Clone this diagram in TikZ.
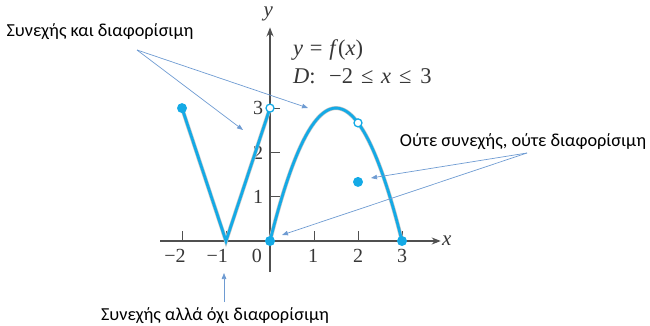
\documentclass[tikz,border=0pt]{standalone}
\usepackage{fontspec}
\setmainfont{Carlito}
\newfontfamily\tnr{Liberation Serif}
\usetikzlibrary{arrows.meta}
\definecolor{curvec}{RGB}{20,170,230}
\definecolor{annc}{RGB}{110,155,210}
\definecolor{axisc}{RGB}{80,80,80}
\definecolor{numc}{RGB}{55,55,55}
\tikzset{
  axisline/.style={draw=axisc, line width=1.1pt},
  tickline/.style={draw=axisc, line width=0.9pt},
  fline/.style={draw=gray!45, line width=4pt, line cap=round},
  fcore/.style={draw=curvec, line width=2.8pt, line cap=round},
  dotfill/.style={circle, fill=curvec, inner sep=0pt, minimum size=10pt},
  dotopen/.style={circle, fill=white, draw=curvec, line width=1.3pt, inner sep=0pt, minimum size=8pt},
  num/.style={font=\tnr\fontsize{20}{22}\selectfont, text=numc, inner sep=0pt},
  mathlbl/.style={font=\tnr\fontsize{22.5}{24}\selectfont, text=numc, inner sep=0pt, anchor=west},
  lbl/.style={font=\fontsize{18.3}{21}\selectfont, inner sep=0pt},
  ann/.style={draw=annc, line width=0.7pt, -{Triangle[length=6pt,width=4.5pt]}}
}
\begin{document}
\begin{tikzpicture}[x=1pt,y=-1pt]
\useasboundingbox (0,0) rectangle (650,326);
\begin{scope}[shift={(270,241)},x=44pt,y=44.3pt]
  % axes
  \draw[axisline,-{Stealth[length=9pt,width=7pt]}] (-2.5,0) -- (3.88,0);
  \draw[axisline,-{Stealth[length=9pt,width=7pt]}] (0,-0.7) -- (0,4.82);
  \node[font=\tnr\itshape\fontsize{21}{22}\selectfont, text=numc] (xl) at (4.02,0) {x};
  \node[font=\tnr\itshape\fontsize{21}{22}\selectfont, text=numc] (yl) at (-0.04,5.12) {y};
  % ticks
  \foreach \t in {-2,-1,1,2,3} \draw[tickline] (\t,0) -- (\t,0.22);
  \foreach \t in {1,2,3} \draw[tickline] (0,\t) -- (0.22,\t);
  % tick labels
  \node[num] (nxm2) at (-2.16,-0.33) {−2};
  \node[num] (nxm1) at (-1.2,-0.33) {−1};
  \node[num] (nx0) at (-0.3,-0.33) {0};
  \node[num] (nx1) at (0.98,-0.33) {1};
  \node[num] (nx2) at (2,-0.33) {2};
  \node[num] (nx3) at (3,-0.33) {3};
  \node[num] (ny1) at (-0.27,0.99) {1};
  \node[num] (ny2) at (-0.27,2) {2};
  \node[num] (ny3) at (-0.27,3) {3};
  % function
  \draw[fline] (-2,3) -- (-1,0) -- (0,3);
  \draw[fline] plot[domain=0:3,samples=60,smooth] (\x,{4*\x-4*\x*\x/3});
  \draw[fcore] (-2,3) -- (-1,0) -- (0,3);
  \draw[fcore] plot[domain=0:3,samples=60,smooth] (\x,{4*\x-4*\x*\x/3});
  % points
  \node[dotfill] (pa) at (-2,3) {};
  \node[dotfill] (po) at (0,0) {};
  \node[dotfill] (pe) at (3,0) {};
  \node[dotfill] (pm) at (2,4/3) {};
  \node[dotopen] (qa) at (0,3) {};
  \node[dotopen] (qb) at (2,8/3) {};
\end{scope}
% formula text
\node[mathlbl] (f1) at (293,50) {\itshape y\/\hspace{0.3em}\upshape=\hspace{0.3em}\itshape f\/\upshape(\itshape x\/\upshape)};
\node[mathlbl] (f2) at (293,76) {\itshape D\/\upshape:\hspace{0.6em}−2\hspace{0.35em}≤\hspace{0.35em}\itshape x\/\hspace{0.35em}\upshape≤\hspace{0.4em}3};
% labels
\node[lbl] (l1) at (100,32) {Συνεχής και διαφορίσιμη};
\node[lbl] (l2) at (523,142) {Ούτε συνεχής, ούτε διαφορίσιμη};
\node[lbl] (l3) at (215,316) {Συνεχής αλλά όχι διαφορίσιμη};
% annotation arrows
\coordinate (s1) at (137,50);
\coordinate (t1a) at (243,130);
\coordinate (t1b) at (308,108);
\coordinate (s2) at (527,153);
\coordinate (t2a) at (371,178);
\coordinate (t2b) at (282,235);
\coordinate (s3) at (224,302);
\coordinate (t3) at (224,273);
\draw[ann] (s1) -- (t1a);
\draw[ann] (s1) -- (t1b);
\draw[ann] (s2) -- (t2a);
\draw[ann] (s2) -- (t2b);
\draw[ann] (s3) -- (t3);
\end{tikzpicture}
\end{document}
